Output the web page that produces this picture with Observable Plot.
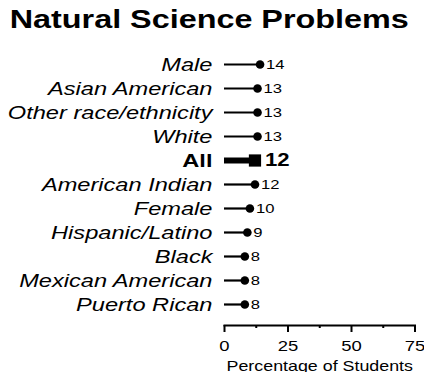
<!DOCTYPE html>
<html>
<head>
<meta charset="utf-8">
<script src="https://cdn.jsdelivr.net/npm/d3@7"></script>
<script src="https://cdn.jsdelivr.net/npm/@observablehq/plot@0.6"></script>
<style>
  html, body { margin: 0; padding: 0; background: white; }
  #title { height: 40px; line-height: 40px; padding-top: 4px; padding-right: 5px; text-align: center;
           font: bold 26.3px "Liberation Sans", Arial, sans-serif; color: black; white-space: nowrap; }
  #title span { display: inline-block; transform: scaleX(1.23); }
  #chart svg { display: block; }
</style>
</head>
<body>
<div id="title"><span>Natural Science Problems</span></div>
<div id="chart"></div>
<script>
const categories = ["Male", "Asian American", "Other race/ethnicity", "White", "All", "American Indian", "Female", "Hispanic/Latino", "Black", "Mexican American", "Puerto Rican"];
const values = [14, 13, 13, 13, 12, 12, 10, 9, 8, 8, 8];
const majorTicks = [0, 25, 50, 75];
const minorTicks = [12.5, 37.5, 62.5];
const axisLabel = "Percentage of Students";

const rows = categories.map((c, i) => ({group: c, value: values[i]}));
const others = rows.filter(d => d.group !== "All");
const all = rows.filter(d => d.group === "All");

const chart = Plot.plot({
  width: 424,
  height: 328,
  marginLeft: 224,
  marginRight: 9.5,
  marginTop: 0,
  marginBottom: 47,
  style: {fontFamily: "'Liberation Sans', Arial, sans-serif", color: "black", background: "white"},
  x: {domain: [0, 75], label: null},
  y: {type: "point", domain: categories, range: [17, 262], padding: 0, axis: null},
  marks: [
    Plot.frame({anchor: "bottom", strokeWidth: 2}),
    Plot.axisX({ticks: majorTicks, tickSize: 7, tickPadding: 8, fontSize: 15, strokeWidth: 2, label: null}),
    Plot.axisX({ticks: minorTicks, tickSize: 3, tickFormat: () => "", strokeWidth: 2, label: null}),
    Plot.text([axisLabel], {frameAnchor: "bottom", dy: 45, fontSize: 14.5, text: d => d}),
    Plot.ruleY(others, {y: "group", x1: 0, x2: "value", strokeWidth: 2.2}),
    Plot.ruleY(all, {y: "group", x1: 0, x2: "value", strokeWidth: 6}),
    Plot.dot(others, {x: "value", y: "group", r: 4.3, fill: "black"}),
    Plot.dot(all, {x: "value", y: "group", r: 6.9, symbol: "square", fill: "black"}),
    Plot.text(others, {x: 0, y: "group", text: "group", textAnchor: "end", dx: -12, fontSize: 19.2, fontStyle: "italic"}),
    Plot.text(all, {x: 0, y: "group", text: "group", textAnchor: "end", dx: -12, fontSize: 19.2, fontWeight: "bold"}),
    Plot.text(others, {x: "value", y: "group", text: d => String(d.value), textAnchor: "start", dx: 6, fontSize: 13.5}),
    Plot.text(all, {x: "value", y: "group", text: d => String(d.value), textAnchor: "start", dx: 10, fontSize: 18, fontWeight: "bold"})
  ]
});

d3.select(chart).selectAll("text").each(function() {
  const t = this.getAttribute("transform") || "";
  this.setAttribute("transform", (t + " scale(1.23,1)").trim());
});

document.getElementById("chart").appendChild(chart);
</script>
</body>
</html>
